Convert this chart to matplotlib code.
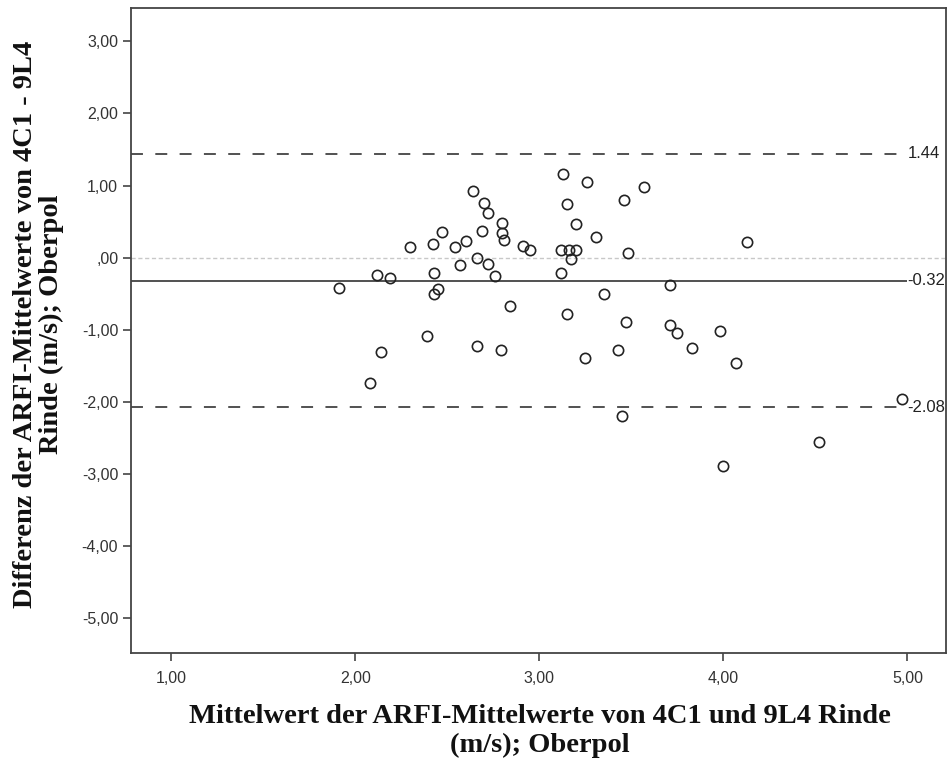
import numpy as np
import matplotlib.pyplot as plt
from matplotlib.ticker import FuncFormatter

# mean of the two ARFI readings (m/s) and their difference 4C1 - 9L4
mean_vals = [1.91, 2.08, 2.14, 2.12, 2.19, 2.30, 2.39, 2.42, 2.43, 2.43,
             2.45, 2.47, 2.54, 2.57, 2.60, 2.64, 2.66, 2.66, 2.69, 2.70,
             2.72, 2.72, 2.76, 2.79, 2.80, 2.80, 2.81, 2.84, 2.91, 2.95,
             3.13, 3.26, 3.57, 3.46, 3.15, 3.20, 3.31, 4.13, 3.12, 3.16,
             3.20, 3.17, 3.48, 3.12, 3.71, 3.35, 3.15, 3.47, 3.71, 3.75,
             3.98, 3.83, 3.43, 3.25, 4.07, 4.97, 4.52, 3.45, 4.00]
diff_vals = [-0.43, -1.74, -1.31, -0.24, -0.29, 0.15, -1.09, 0.19, -0.21, -0.51,
             -0.44, 0.35, 0.14, -0.11, 0.23, 0.92, 0.00, -1.23, 0.37, 0.76,
             0.62, -0.09, -0.26, -1.28, 0.48, 0.34, 0.25, -0.68, 0.16, 0.11,
             1.16, 1.05, 0.98, 0.80, 0.75, 0.47, 0.28, 0.22, 0.11, 0.11,
             0.10, -0.02, 0.06, -0.21, -0.38, -0.51, -0.79, -0.89, -0.94, -1.05,
             -1.02, -1.26, -1.28, -1.39, -1.46, -1.97, -2.56, -2.20, -2.90]

bias = -0.32
upper_loa = 1.44
lower_loa = -2.08

xlabel_lines = ['Mittelwert der ARFI-Mittelwerte von 4C1 und 9L4 Rinde', '(m/s); Oberpol']
ylabel_lines = ['Differenz der ARFI-Mittelwerte von 4C1 - 9L4', 'Rinde (m/s); Oberpol']

plt.rcParams['lines.scale_dashes'] = False

fig = plt.figure(figsize=(9.47, 7.6), dpi=100)
ax = fig.add_axes([0.138, 0.141, 0.861, 0.848])

xmin, xmax = 0.78, 5.21
line_end = 5.0

ax.axhline(0, color='#c8c8c8', lw=1.0, linestyle=(0, (3.0, 1.9)), zorder=1)
ax.hlines([upper_loa, lower_loa], xmin, line_end, color='#333333', lw=1.2,
          linestyles=[(0, (8.6, 8.9))], zorder=2)
ax.hlines(bias, xmin, line_end, color='#333333', lw=1.2, zorder=2)

for val in (upper_loa, bias, lower_loa):
    ax.text(line_end, val, '%.2f' % val, ha='left', va='center',
            fontsize=12, family='Liberation Sans', color='#222222')

ax.plot(mean_vals, diff_vals, 'o', mfc='none', mec='#222222', mew=1.2,
        ms=7.4, zorder=3)

ax.set_xlim(xmin, xmax)
ax.set_ylim(-5.49, 3.46)
ax.set_xticks([1, 2, 3, 4, 5])
ax.set_yticks([-5, -4, -3, -2, -1, 0, 1, 2, 3])

ax.xaxis.set_major_formatter(FuncFormatter(lambda v, p: ('%.2f' % v).replace('.', ',')))
ax.yaxis.set_major_formatter(FuncFormatter(
    lambda v, p: ('%.2f' % v).replace('.', ',').replace('0,00', ',00')))

for lab in ax.get_xticklabels() + ax.get_yticklabels():
    lab.set_family('Liberation Sans')
    lab.set_fontsize(11.5)
    lab.set_color('#333333')
ax.tick_params(direction='out', length=6, width=1.2, color='#444444', pad=3)
ax.tick_params(axis='x', pad=7)
for sp in ax.spines.values():
    sp.set_color('#444444')
    sp.set_linewidth(1.3)

label_kw = dict(fontsize=20.5, fontweight='bold', family='Liberation Serif',
                color='#111111', ha='center', va='baseline')
xc = 0.570
fig.text(xc, 0.0487, xlabel_lines[0], **label_kw)
fig.text(xc, 0.0105, xlabel_lines[1], **label_kw)
yc = 0.573
fig.text(0.0338, yc, ylabel_lines[0], rotation=90, rotation_mode='anchor', **label_kw)
fig.text(0.0617, yc, ylabel_lines[1], rotation=90, rotation_mode='anchor', **label_kw)

fig.savefig('out.png', dpi=100)
